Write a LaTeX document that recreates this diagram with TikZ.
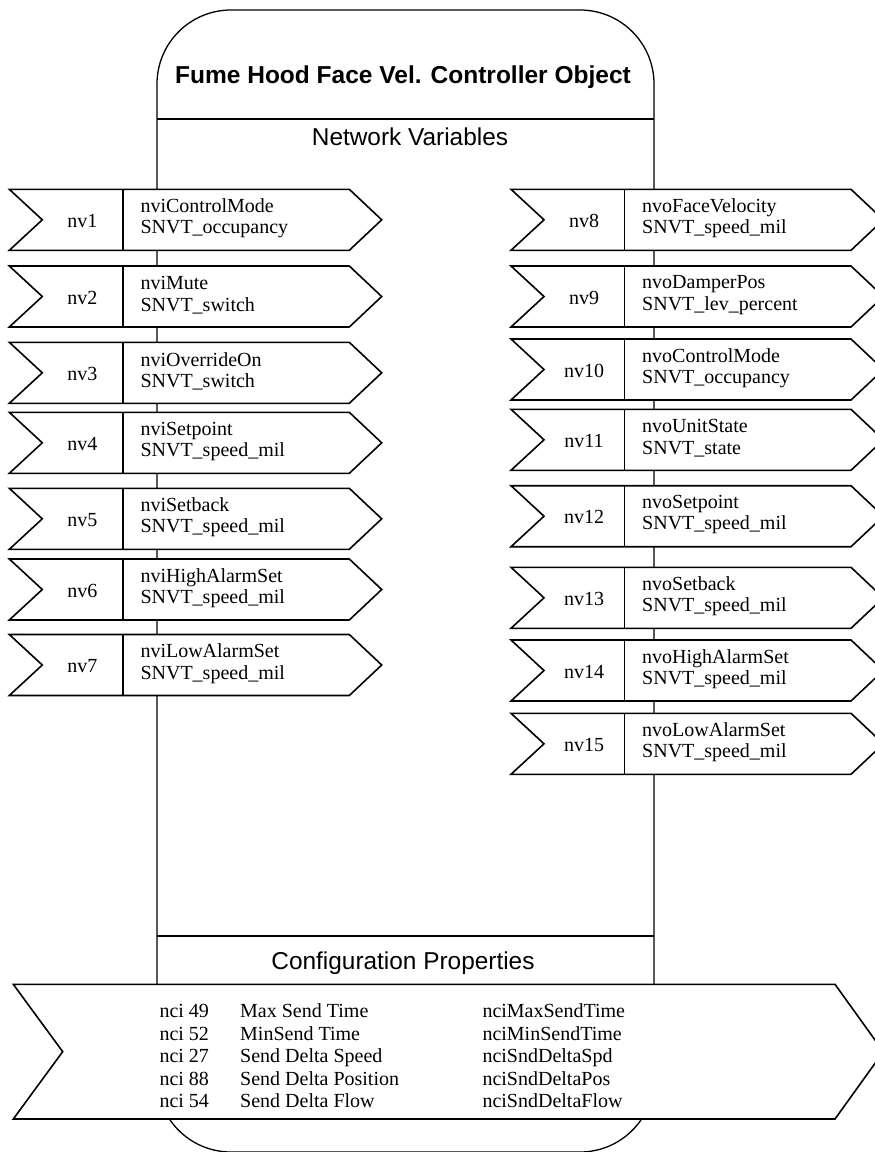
\documentclass[tikz,border=0pt]{standalone}
\usepackage{fontspec}
\setmainfont{Liberation Serif}
\newfontfamily\arialfont{Liberation Sans}
\tikzset{
  arrowshape/.style={draw, fill=white, line width=1.6pt, line join=miter},
  divider/.style={draw, line width=1.4pt},
  bodyline/.style={draw, line width=1.3pt},
  nvlabel/.style={font=\fontsize{20}{21.5}\selectfont, inner sep=0pt},
  nvtext/.style={font=\fontsize{20}{21.5}\selectfont, align=left, anchor=west, inner sep=0pt},
  cptext/.style={font=\fontsize{20}{22.5}\selectfont, align=left, anchor=west, inner sep=0pt},
  titletext/.style={font=\arialfont\bfseries\fontsize{24.5}{26}\selectfont, inner sep=0pt},
  headtext/.style={font=\arialfont\fontsize{24.4}{26}\selectfont, inner sep=0pt}
}
\newcommand\nvbox[6]{%
  \draw[arrowshape] (#2,#3) -- ++(340,0) -- ++(32.4,30.5) -- ++(-32.4,30.5) -- ++(-340,0) -- ++(33,-30.5) -- cycle;
  \draw[divider] (#2+113.5,#3) -- ++(0,61);
  \node[nvlabel] (#1n) at (#2+73,#3+31.5) {#4};
  \node[nvtext] (#1t) at (#2+131,#3+29) {#5\\#6};
}
\begin{document}
\begin{tikzpicture}[x=1pt,y=-1pt]
\useasboundingbox (0,0) rectangle (875,1152);
% body
\draw[bodyline] (157,1078) -- (157,84) arc[start angle=180,end angle=270,radius=74]
  -- (580,10) arc[start angle=270,end angle=360,radius=74]
  -- (654,1078) arc[start angle=0,end angle=90,radius=74]
  -- (231,1152) arc[start angle=90,end angle=180,radius=74] -- cycle;
\draw[bodyline] (157,119) -- (654,119);
\draw[bodyline] (157,936) -- (654,936);
\node[titletext] (title) at (403,77) {Fume Hood Face Vel. Controller Object};
\node[headtext] (nvhead) at (410,137) {Network Variables};
\node[headtext] (cphead) at (403,963) {Configuration Properties};
% inputs
\nvbox{a1}{9.3}{189.3}{nv1}{nviControlMode}{SNVT\_occupancy}
\nvbox{a2}{9.3}{266}{nv2}{nviMute}{SNVT\_switch}
\nvbox{a3}{9.3}{342.3}{nv3}{nviOverrideOn}{SNVT\_switch}
\nvbox{a4}{9.3}{412.3}{nv4}{nviSetpoint}{SNVT\_speed\_mil}
\nvbox{a5}{9.3}{488.3}{nv5}{nviSetback}{SNVT\_speed\_mil}
\nvbox{a6}{9.3}{559}{nv6}{nviHighAlarmSet}{SNVT\_speed\_mil}
\nvbox{a7}{9.3}{634.5}{nv7}{nviLowAlarmSet}{SNVT\_speed\_mil}
% outputs
\nvbox{b8}{511}{189.3}{nv8}{nvoFaceVelocity}{SNVT\_speed\_mil}
\nvbox{b9}{511}{266}{nv9}{nvoDamperPos}{SNVT\_lev\_percent}
\nvbox{b10}{511}{339}{nv10}{nvoControlMode}{SNVT\_occupancy}
\nvbox{b11}{511}{409.3}{nv11}{nvoUnitState}{SNVT\_state}
\nvbox{b12}{511}{485.7}{nv12}{nvoSetpoint}{SNVT\_speed\_mil}
\nvbox{b13}{511}{567.3}{nv13}{nvoSetback}{SNVT\_speed\_mil}
\nvbox{b14}{511}{640}{nv14}{nvoHighAlarmSet}{SNVT\_speed\_mil}
\nvbox{b15}{511}{713.3}{nv15}{nvoLowAlarmSet}{SNVT\_speed\_mil}
% configuration properties
\draw[arrowshape] (13.3,984.3) -- (835,984.3) -- (883.4,1051.65) -- (835,1119) -- (13.3,1119) -- (62.7,1051.65) -- cycle;
\node[cptext] (cp1) at (159.3,1056) {nci 49\\nci 52\\nci 27\\nci 88\\nci 54};
\node[cptext] (cp2) at (240,1056) {Max Send Time\\MinSend Time\\Send Delta Speed\\Send Delta Position\\Send Delta Flow};
\node[cptext] (cp3) at (482.3,1056) {nciMaxSendTime\\nciMinSendTime\\nciSndDeltaSpd\\nciSndDeltaPos\\nciSndDeltaFlow};
\end{tikzpicture}
\end{document}
